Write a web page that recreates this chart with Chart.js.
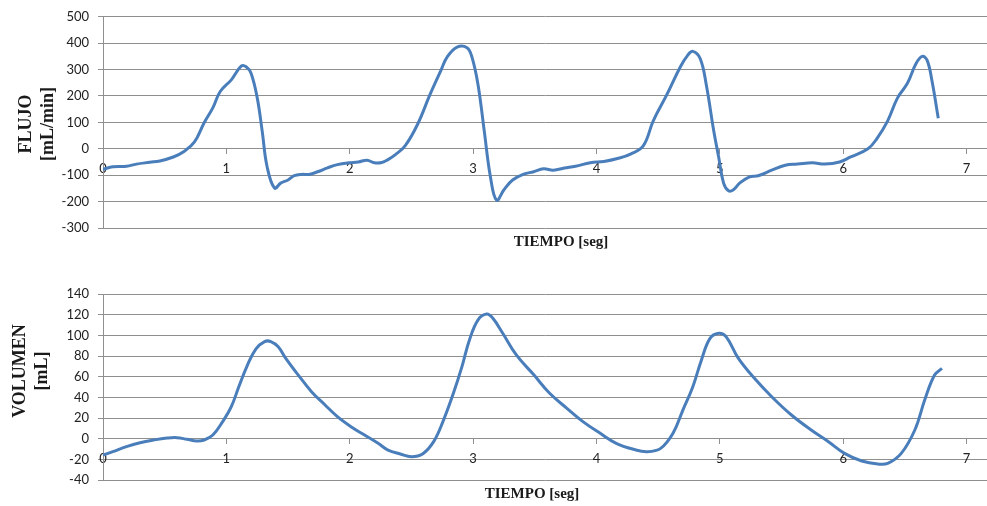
<!DOCTYPE html>
<html lang="es">
<head>
    <meta charset="UTF-8">
    <title>Flujo y volumen</title>
    <script src="https://cdn.jsdelivr.net/npm/chart.js"></script>
    <style>
        body { margin: 0; background: #fff; }
        .box { position: absolute; left: 0; width: 987px; height: 250px; }
        .titulo { position: absolute; font: bold 15px "Liberation Serif", serif; color: #1a1a1a; white-space: nowrap; transform: translate(-50%, -50%); }
        .tituloY { position: absolute; font: bold 18px "Liberation Serif", serif; color: #1a1a1a; white-space: nowrap; text-align: center; line-height: 22px; transform: translate(-50%, -50%) rotate(-90deg); }
    </style>
</head>
<body>
    <div class="box" style="top: 0;"><canvas id="chartFlujo"></canvas></div>
    <div class="box" style="top: 256px;"><canvas id="chartVolumen"></canvas></div>

    <div class="tituloY" style="left: 36px; top: 124px;">FLUJO<br>[mL/min]</div>
    <div class="titulo" style="left: 561px; top: 241px;">TIEMPO [seg]</div>
    <div class="tituloY" style="left: 30px; top: 371px;">VOLUMEN<br>[mL]</div>
    <div class="titulo" style="left: 532px; top: 493px;">TIEMPO [seg]</div>

    <script>
        // datos
        const flujoTiempo = [0, 0.08, 0.19, 0.27, 0.38, 0.46, 0.57, 0.65, 0.74, 0.82, 0.89, 0.95, 1.04, 1.12, 1.16, 1.20, 1.25, 1.29, 1.33, 1.39,
            1.44, 1.50, 1.55, 1.61, 1.67, 1.74, 1.82, 1.90, 1.99, 2.07, 2.14, 2.20, 2.26, 2.31, 2.37, 2.45, 2.55, 2.65, 2.74, 2.79,
            2.87, 2.95, 2.99, 3.04, 3.09, 3.14, 3.19, 3.25, 3.32, 3.41, 3.49, 3.57, 3.65, 3.74, 3.83, 3.95, 4.06, 4.17, 4.28, 4.38,
            4.46, 4.57, 4.68, 4.74, 4.78, 4.84, 4.89, 4.95, 4.99, 5.03, 5.07, 5.11, 5.16, 5.24, 5.31, 5.42, 5.53, 5.63, 5.75, 5.85,
            5.97, 6.06, 6.20, 6.27, 6.36, 6.44, 6.52, 6.59, 6.64, 6.68, 6.72, 6.77];
        const flujoValores = [-78, -68, -66, -58, -51, -46, -31, -12, 25, 99, 155, 217, 261, 313, 311, 286, 193, 68, -68, -149,
            -130, -118, -102, -97, -97, -87, -72, -60, -53, -50, -43, -53, -52, -41, -22, 12, 93, 205, 298, 348,
            385, 383, 348, 242, 68, -106, -195, -155, -118, -96, -87, -76, -81, -73, -66, -53, -48, -37, -19, 12,
            106, 205, 311, 355, 369, 342, 242, 68, -31, -130, -159, -155, -130, -106, -102, -81, -62, -58, -53, -58,
            -50, -31, 0, 37, 106, 193, 248, 323, 350, 335, 255, 116];

        const volTiempo = [0, 0.08, 0.19, 0.30, 0.41, 0.52, 0.60, 0.68, 0.76, 0.82, 0.89, 0.97, 1.04, 1.10, 1.17, 1.24, 1.31, 1.36, 1.42, 1.48,
            1.58, 1.69, 1.80, 1.90, 2.01, 2.12, 2.23, 2.31, 2.41, 2.50, 2.59, 2.68, 2.76, 2.84, 2.91, 2.97, 3.04, 3.11, 3.16, 3.24,
            3.35, 3.49, 3.62, 3.76, 3.89, 4.03, 4.16, 4.30, 4.41, 4.52, 4.62, 4.70, 4.78, 4.85, 4.92, 4.99, 5.05, 5.15, 5.28, 5.42,
            5.58, 5.74, 5.88, 6.01, 6.15, 6.28, 6.36, 6.47, 6.58, 6.66, 6.74, 6.80];
        const volValores = [-16, -12.6, -7.7, -3.9, -1.3, 0.6, 1, -0.6, -2.3, -1.3, 3.5, 16.5, 31, 50, 71, 87, 94, 94, 89, 78,
            62, 45.5, 32.6, 21.3, 11.6, 3.5, -4.5, -11, -14.8, -17.4, -14.8, -2.9, 18, 44, 70, 95.5, 115, 120.6, 116.5, 102,
            81, 62, 43.9, 29.4, 16.5, 5.2, -4.5, -10.3, -12.6, -9.4, 5.2, 27.7, 50, 76, 97, 102, 98.7, 77.7, 58.4, 40.6,
            22.9, 8.4, -2.9, -14.2, -21.6, -24.5, -23.9, -14.2, 8.4, 37.4, 61.6, 68];

        const ticksTiempo = [0, 1, 2, 3, 4, 5, 6, 7];
        const ticksFlujo = [-300, -200, -100, 0, 100, 200, 300, 400, 500];
        const ticksVol = [-40, -20, 0, 20, 40, 60, 80, 100, 120, 140];

        const gris = '#8f8f8f';
        const fuente = { family: 'Lato', size: 13 };

        function crearGrafico(id, tiempos, valores, ticksY, padding) {
            const ctx = document.getElementById(id).getContext('2d');
            return new Chart(ctx, {
                type: 'line',
                data: {
                    datasets: [{
                        data: tiempos.map((t, i) => ({ x: t, y: valores[i] })),
                        borderColor: '#4a7ebb',
                        borderWidth: 3,
                        pointRadius: 0,
                        tension: 0.4,
                        fill: false
                    }]
                },
                options: {
                    responsive: true,
                    maintainAspectRatio: false,
                    animation: false,
                    layout: { padding: padding },
                    plugins: { legend: { display: false }, tooltip: { enabled: false } },
                    scales: {
                        x: {
                            type: 'linear',
                            position: { y: 0 },
                            min: 0,
                            max: 7.165,
                            afterBuildTicks: s => { s.ticks = ticksTiempo.map(v => ({ value: v })); },
                            grid: { drawOnChartArea: false, drawTicks: true, tickLength: 5, color: gris },
                            border: { display: true, color: gris },
                            ticks: { color: '#222', font: fuente, padding: 7, maxRotation: 0 }
                        },
                        y: {
                            min: ticksY[0],
                            max: ticksY[ticksY.length - 1],
                            afterBuildTicks: s => { s.ticks = ticksY.map(v => ({ value: v })); },
                            afterFit: s => { s.width = 103; },
                            grid: { color: gris, tickLength: 5 },
                            border: { display: true, color: gris },
                            ticks: { color: '#222', font: fuente, padding: 9 }
                        }
                    }
                }
            });
        }

        crearGrafico('chartFlujo', flujoTiempo, flujoValores, ticksFlujo, { top: 14, bottom: 22, left: 0, right: 0 });
        crearGrafico('chartVolumen', volTiempo, volValores, ticksVol, { top: 38, bottom: 26, left: 0, right: 0 });
    </script>
</body>
</html>
